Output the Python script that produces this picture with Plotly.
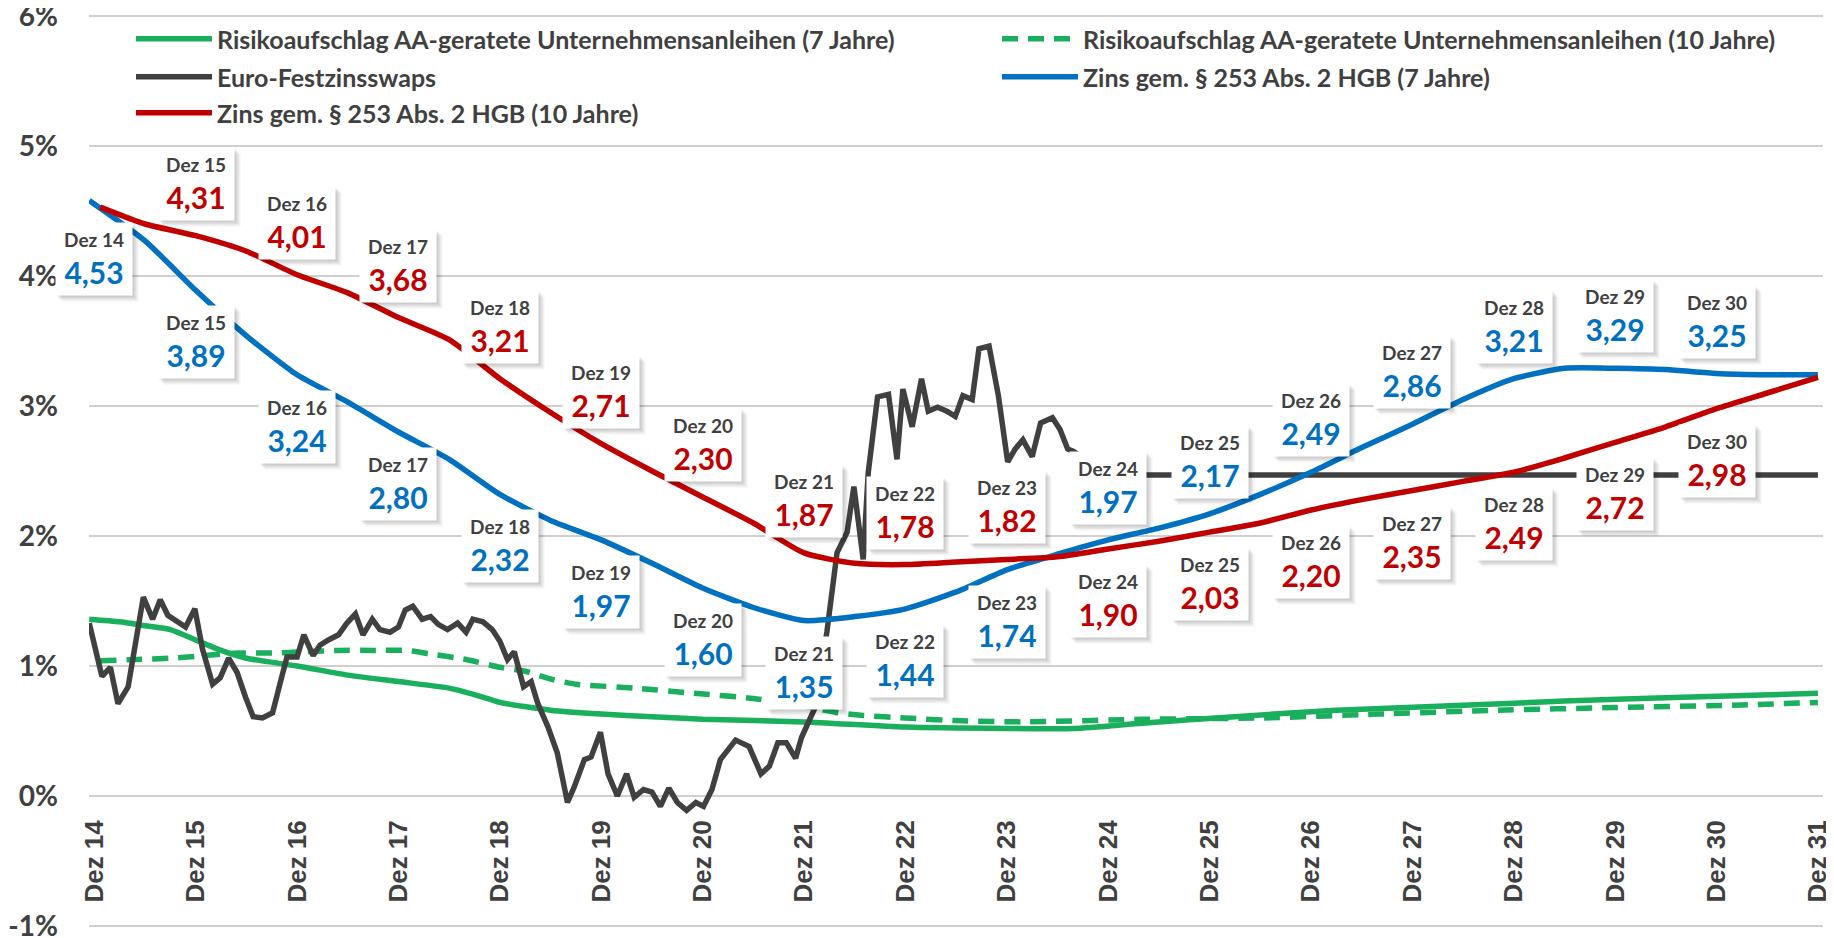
import plotly.graph_objects as go

# ---------------- data (x = months after "Dez 14"; 12 = Dez 15, ... 204 = Dez 31) ----------------
x_tick_months = [0, 12, 24, 36, 48, 60, 72, 84, 96, 108, 120, 132, 144, 156, 168, 180, 192, 204]
x_tick_labels = ["Dez 14", "Dez 15", "Dez 16", "Dez 17", "Dez 18", "Dez 19", "Dez 20", "Dez 21", "Dez 22",
                 "Dez 23", "Dez 24", "Dez 25", "Dez 26", "Dez 27", "Dez 28", "Dez 29", "Dez 30", "Dez 31"]
y_tick_vals = [-1, 0, 1, 2, 3, 4, 5, 6]
y_tick_labels = ["-1%", "0%", "1%", "2%", "3%", "4%", "5%", "6%"]

green7_m = [-0.6, 3, 6, 9, 12, 15, 18, 24, 30, 36, 42, 45, 48, 54, 60, 66, 72, 84, 96, 108, 116, 124,
            135, 147, 159, 174, 188, 204]
green7_v = [1.36, 1.34, 1.31, 1.28, 1.20, 1.12, 1.06, 1.00, 0.93, 0.88, 0.83, 0.78, 0.72, 0.66, 0.63, 0.61,
            0.59, 0.57, 0.53, 0.52, 0.52, 0.56, 0.61, 0.66, 0.69, 0.73, 0.76, 0.79]

green10_m = [0.7, 5, 9, 13, 17, 21, 25, 29, 33, 37, 40, 44, 48, 51, 54, 57, 64, 71, 78, 85, 88, 91, 96,
             102, 110, 124, 138, 152, 166, 180, 195, 204]
green10_v = [1.04, 1.05, 1.06, 1.08, 1.10, 1.10, 1.11, 1.12, 1.12, 1.12, 1.09, 1.05, 0.99, 0.96, 0.90, 0.86,
             0.83, 0.79, 0.75, 0.68, 0.64, 0.62, 0.60, 0.58, 0.57, 0.59, 0.60, 0.63, 0.66, 0.68, 0.70, 0.72]

swap_m = [-0.6, 0.1, 0.9, 1.9, 2.8, 4.0, 5.1, 5.8, 6.9, 7.8, 8.7, 9.8, 10.8, 11.9, 12.8, 14.0, 14.9, 15.9,
          16.9, 17.9, 18.8, 19.9, 21.1, 22.0, 22.8, 24.0, 24.8, 25.9, 26.7, 27.7, 28.9, 29.9, 30.9, 31.8,
          32.9, 33.8, 35.0, 36.0, 36.8, 37.7, 38.8, 39.8, 40.7, 41.8, 43.0, 44.0, 44.8, 46.0, 47.1, 48.0,
          48.9, 49.7, 50.8, 51.7, 52.5, 53.7, 54.8, 56.0, 56.8, 58.0, 58.8, 59.9, 60.8, 61.9, 63.0, 63.9,
          65.0, 66.0, 67.0, 68.0, 69.0, 70.1, 71.2, 72.1, 73.1, 74.1, 75.9, 77.5, 78.9, 79.9, 80.9, 81.9,
          83.0, 83.7, 84.6, 85.3, 86.7, 87.9, 89.1, 89.9, 91.0, 91.6, 92.7, 94.0, 95.0, 95.7, 96.8, 97.9,
          98.7, 99.8, 100.9, 101.9, 102.8, 103.9, 104.7, 105.9, 107.0, 108.1, 109.0, 109.9, 111.0, 112.0,
          113.4, 114.3, 115.2, 115.9, 118.0, 124.6, 204.0]
swap_v = [1.33, 1.15, 0.92, 0.99, 0.71, 0.84, 1.23, 1.53, 1.36, 1.51, 1.39, 1.34, 1.30, 1.44, 1.13, 0.86,
          0.91, 1.06, 0.95, 0.76, 0.61, 0.60, 0.64, 0.87, 1.07, 1.07, 1.24, 1.08, 1.16, 1.20, 1.24, 1.33,
          1.40, 1.24, 1.36, 1.28, 1.26, 1.30, 1.43, 1.46, 1.36, 1.38, 1.32, 1.28, 1.33, 1.26, 1.36, 1.34,
          1.28, 1.19, 1.05, 1.11, 0.84, 0.88, 0.71, 0.53, 0.33, -0.05, 0.07, 0.28, 0.30, 0.49, 0.17, 0.00,
          0.17, -0.01, 0.05, 0.03, -0.08, 0.06, -0.05, -0.11, -0.05, -0.08, 0.05, 0.28, 0.43, 0.38, 0.17,
          0.23, 0.41, 0.41, 0.29, 0.45, 0.58, 0.68, 1.26, 1.87, 2.03, 2.38, 1.82, 2.49, 3.07, 3.09, 2.59,
          3.13, 2.84, 3.21, 2.96, 2.99, 2.96, 2.92, 3.08, 3.05, 3.44, 3.46, 3.08, 2.57, 2.67, 2.74, 2.61,
          2.87, 2.91, 2.82, 2.67, 2.65, 2.55, 2.47, 2.47]

blue_m = [-0.6, 6, 12, 18, 24, 30, 36, 42, 48, 54, 60, 66, 72, 78, 84, 90, 96, 102, 108, 114, 120, 126,
          132, 138, 144, 150, 156, 162, 168, 174, 180, 186, 192, 198, 204]
blue_v = [4.58, 4.27, 3.89, 3.54, 3.24, 3.03, 2.80, 2.59, 2.32, 2.12, 1.97, 1.79, 1.60, 1.45, 1.35, 1.38,
          1.44, 1.57, 1.74, 1.86, 1.97, 2.06, 2.17, 2.32, 2.49, 2.68, 2.86, 3.05, 3.21, 3.29, 3.29, 3.28,
          3.25, 3.24, 3.24]

red_m = [0.7, 6, 12, 18, 24, 30, 36, 42, 48, 54, 60, 66, 72, 78, 84, 90, 96, 102, 108, 114, 120, 126,
         132, 138, 144, 150, 156, 162, 168, 174, 180, 186, 192, 198, 204]
red_v = [4.53, 4.40, 4.31, 4.19, 4.01, 3.87, 3.68, 3.51, 3.21, 2.95, 2.71, 2.50, 2.30, 2.10, 1.87, 1.79,
         1.78, 1.80, 1.82, 1.84, 1.90, 1.96, 2.03, 2.10, 2.20, 2.28, 2.35, 2.42, 2.49, 2.60, 2.72, 2.84,
         2.98, 3.10, 3.22]

# data labels (December values)
label_months = [0, 12, 24, 36, 48, 60, 72, 84, 96, 108, 120, 132, 144, 156, 168, 180, 192]
label_names = ["Dez 14", "Dez 15", "Dez 16", "Dez 17", "Dez 18", "Dez 19", "Dez 20", "Dez 21", "Dez 22",
               "Dez 23", "Dez 24", "Dez 25", "Dez 26", "Dez 27", "Dez 28", "Dez 29", "Dez 30"]
blue_labels = [4.53, 3.89, 3.24, 2.80, 2.32, 1.97, 1.60, 1.35, 1.44, 1.74, 1.97, 2.17, 2.49, 2.86, 3.21,
               3.29, 3.25]
red_labels = [None, 4.31, 4.01, 3.68, 3.21, 2.71, 2.30, 1.87, 1.78, 1.82, 1.90, 2.03, 2.20, 2.35, 2.49,
              2.72, 2.98]

names = ["Risikoaufschlag AA-geratete Unternehmensanleihen (7 Jahre)",
         "Risikoaufschlag AA-geratete Unternehmensanleihen (10 Jahre)",
         "Euro-Festzinsswaps",
         "Zins gem. § 253 Abs. 2 HGB (7 Jahre)",
         "Zins gem. § 253 Abs. 2 HGB (10 Jahre)"]

# ---------------- styling ----------------
GREEN = "#1aaf5d"
DARK = "#404040"
BLUE = "#0070c0"
RED = "#c00000"
TXT = "#404040"
OFF = 8                      # default page margin of the html body
PAD = 3                      # extra px so the edge grid lines (6% / -1%) are drawn
W, H = 1834 - OFF, 938 - OFF
ML, MR, MT, MB = 89 - OFF, 11, 16 - OFF - PAD, 12 - PAD
PW, PH = W - ML - MR, H - MT - MB
YPAD = PAD * 7.0 / (910.0)   # value units equivalent of PAD

fig = go.Figure()
fig.add_trace(go.Scatter(x=green7_m, y=green7_v, mode="lines", name=names[0], legend="legend",
                         line=dict(color=GREEN, width=5.5, shape="spline", smoothing=0.6)))
fig.add_trace(go.Scatter(x=green10_m, y=green10_v, mode="lines", name=names[1], legend="legend2",
                         line=dict(color=GREEN, width=5.5, shape="spline", smoothing=0.6, dash="16px,10px")))
fig.add_trace(go.Scatter(x=swap_m, y=swap_v, mode="lines", name=names[2], legend="legend3",
                         line=dict(color=DARK, width=5.5)))
fig.add_trace(go.Scatter(x=blue_m, y=blue_v, mode="lines", name=names[3], legend="legend4",
                         line=dict(color=BLUE, width=5.5, shape="spline", smoothing=0.6)))
fig.add_trace(go.Scatter(x=red_m, y=red_v, mode="lines", name=names[4], legend="legend5",
                         line=dict(color=RED, width=5.5, shape="spline", smoothing=0.6)))

annotations = []
boxes = []
for i, m in enumerate(label_months):
    for val, col, other in ((blue_labels[i], BLUE, red_labels[i]), (red_labels[i], RED, blue_labels[i])):
        if val is None:
            continue
        above = other is not None and val > other
        ya = "bottom" if above else "top"
        ys = 15 if above else -15
        txt = ("<span style='font-size:19px;color:%s'>%s</span><br>"
               "<span style='font-size:30px;color:%s'>%s</span>" % (TXT, label_names[i], col,
                                                                    ("%.2f" % val).replace(".", ",")))
        for dx, dy, a in ((6, -6, 0.05), (4, -4, 0.08), (2, -2, 0.08)):
            annotations.append(dict(x=m, y=val, xref="x", yref="y", showarrow=False, text=" ",
                                    width=76, height=72, borderpad=0, bgcolor="rgba(0,0,0,%s)" % a,
                                    xanchor="center", yanchor=ya, xshift=dx, yshift=ys + dy))
        boxes.append(dict(x=m, y=val, xref="x", yref="y", showarrow=False, text=txt,
                          width=76, height=72, borderpad=0, bgcolor="white", align="center",
                          valign="middle", xanchor="center", yanchor=ya, yshift=ys,
                          font=dict(family="Lato", size=28, color=col, weight="bold")))
annotations += boxes

leg_font = dict(family="Lato", size=25, color=TXT, weight="bold")
def leg(xpx, ypx):
    # xpx, ypx are page pixel positions
    return dict(orientation="h", xref="paper", yref="paper",
                x=(xpx - OFF - ML) / PW, y=(H - MB - (ypx - OFF)) / PH,
                xanchor="left", yanchor="middle", font=leg_font, bgcolor="rgba(0,0,0,0)",
                itemwidth=76, borderwidth=0)

fig.update_layout(
    width=W, height=H,
    margin=dict(l=ML, r=MR, t=MT, b=MB, autoexpand=False),
    paper_bgcolor="white", plot_bgcolor="white",
    showlegend=True,
    legend=leg(131, 39), legend2=leg(997, 39), legend3=leg(131, 77), legend4=leg(997, 77),
    legend5=leg(131, 113),
    annotations=annotations,
    xaxis=dict(range=[-0.63, 204.6], tickvals=x_tick_months, ticktext=x_tick_labels, tickangle=-90,
               showgrid=False, zeroline=False, showline=False, ticks="",
               anchor="free", position=(1 + YPAD) / (7 + 2 * YPAD), ticklabelstandoff=18,
               ticklabeloverflow="allow",
               tickfont=dict(family="Liberation Sans", size=26, color=TXT, weight="bold")),
    yaxis=dict(range=[-1 - YPAD, 6 + YPAD], tickvals=y_tick_vals, ticktext=y_tick_labels, showgrid=True,
               gridcolor="#cfcfcf", gridwidth=2, zeroline=False, showline=False, ticks="",
               ticklabelstandoff=30, ticklabeloverflow="allow",
               tickfont=dict(family="Lato", size=28, color=TXT, weight="bold")),
)

fig.write_html("out.html")
